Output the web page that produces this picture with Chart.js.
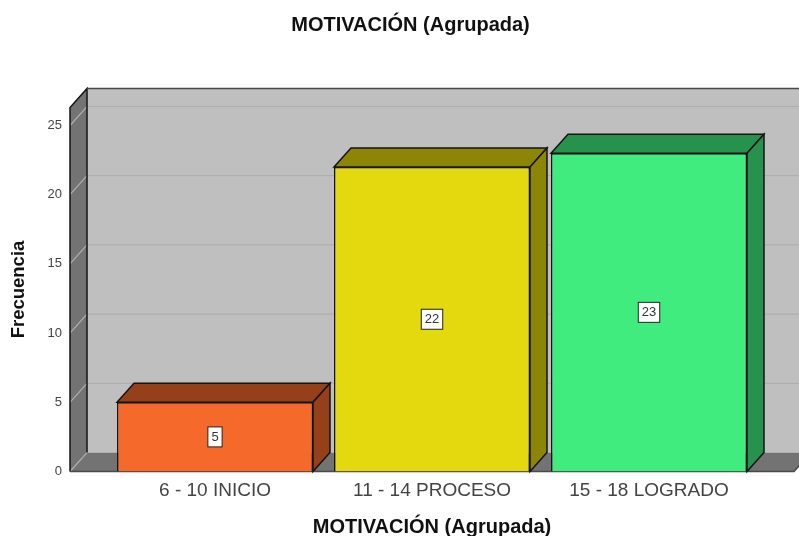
<!DOCTYPE html>
<html>
<head>
<meta charset="utf-8">
<style>
  html, body { margin: 0; padding: 0; background: #fff; }
  canvas { display: block; }
</style>
<script src="https://cdn.jsdelivr.net/npm/chart.js@4/dist/chart.umd.min.js"></script>
</head>
<body>
<canvas id="chart" width="799" height="536"></canvas>
<script>
const categories = ['6 - 10 INICIO', '11 - 14 PROCESO', '15 - 18 LOGRADO']
const frecuencia = [5, 22, 23]
const frontColors = ['#F56A2A', '#E3D90E', '#41EC7F']
const shadeColors = ['#964019', '#8C8508', '#27914E']
const axisMax = 26.3

const depthX = 17
const depthY = 19
const wallPad = 36.5
const lineColor = '#151515'

function poly(ctx, pts, fill, stroke) {
    ctx.beginPath()
    pts.forEach((p, i) => i ? ctx.lineTo(p[0], p[1]) : ctx.moveTo(p[0], p[1]))
    ctx.closePath()
    if (fill) { ctx.fillStyle = fill; ctx.fill() }
    if (stroke) { ctx.strokeStyle = stroke; ctx.lineWidth = 1.5; ctx.stroke() }
}

const box3d = {
    id: 'box3d',
    afterLayout(chart) {
        // title sits off-centre in the original
        chart.titleBlock.left = 22
        chart.titleBlock.right = chart.width
    },
    beforeDatasetsDraw(chart) {
        const { ctx, chartArea, scales } = chart
        const left = chartArea.left - wallPad
        const right = chartArea.right + wallPad
        const bottom = chartArea.bottom
        const top = chartArea.top
        ctx.save()

        // back wall, side wall, floor
        poly(ctx, [[left + depthX, top - depthY], [right + depthX, top - depthY], [right + depthX, bottom - depthY], [left + depthX, bottom - depthY]], '#BFBFBF')
        poly(ctx, [[left, top], [left + depthX, top - depthY], [left + depthX, bottom - depthY], [left, bottom]], '#737373')
        poly(ctx, [[left, bottom], [right, bottom], [right + depthX, bottom - depthY], [left + depthX, bottom - depthY]], '#737373')

        // grid lines run along side wall and back wall
        scales.y.ticks.forEach(t => {
            const y = scales.y.getPixelForValue(t.value)
            ctx.beginPath()
            ctx.moveTo(left, y)
            ctx.lineTo(left + depthX, y - depthY)
            ctx.lineTo(right + depthX, y - depthY)
            ctx.strokeStyle = '#AFAFAF'
            ctx.lineWidth = 1.2
            ctx.stroke()
        })

        // outlines
        ctx.lineWidth = 1.5
        ctx.strokeStyle = lineColor
        ctx.beginPath()
        ctx.moveTo(left, bottom)
        ctx.lineTo(left, top)
        ctx.lineTo(left + depthX, top - depthY)
        ctx.lineTo(left + depthX, bottom - depthY)
        ctx.stroke()
        ctx.strokeStyle = '#4A4A4A'
        ctx.beginPath()
        ctx.moveTo(left + depthX, top - depthY)
        ctx.lineTo(right + depthX, top - depthY)
        ctx.moveTo(left, bottom)
        ctx.lineTo(right, bottom)
        ctx.lineTo(right + depthX, bottom - depthY)
        ctx.stroke()

        // top and side face of each bar
        chart.getDatasetMeta(0).data.forEach((bar, i) => {
            const l = bar.x - bar.width / 2
            const r = bar.x + bar.width / 2
            poly(ctx, [[l, bar.y], [l + depthX, bar.y - depthY], [r + depthX, bar.y - depthY], [r, bar.y]], shadeColors[i], lineColor)
            poly(ctx, [[r, bar.y], [r + depthX, bar.y - depthY], [r + depthX, bar.base - depthY], [r, bar.base]], shadeColors[i], lineColor)
        })
        ctx.restore()
    },
    afterDatasetsDraw(chart) {
        const { ctx } = chart
        ctx.save()
        ctx.font = '13px "Liberation Sans"'
        ctx.textAlign = 'center'
        ctx.textBaseline = 'middle'
        chart.getDatasetMeta(0).data.forEach((bar, i) => {
            const label = String(frecuencia[i])
            const w = ctx.measureText(label).width + 7
            const y = (bar.y + bar.base) / 2
            ctx.fillStyle = '#fff'
            ctx.fillRect(bar.x - w / 2, y - 10, w, 20)
            ctx.strokeStyle = '#222'
            ctx.lineWidth = 1
            ctx.strokeRect(bar.x - w / 2, y - 10, w, 20)
            ctx.fillStyle = '#333'
            ctx.fillText(label, bar.x, y + 0.5)
        })
        ctx.restore()
    }
}

new Chart(document.getElementById('chart').getContext('2d'), {
    type: 'bar',
    data: {
        labels: categories,
        datasets: [{
            label: 'Frecuencia',
            data: frecuencia,
            backgroundColor: frontColors,
            borderColor: lineColor,
            borderWidth: 1.5,
            barPercentage: 196 / 217,
            categoryPercentage: 1
        }]
    },
    options: {
        responsive: false,
        animation: false,
        layout: { padding: { right: 41.5 } },
        plugins: {
            legend: { display: false },
            tooltip: { enabled: false },
            title: {
                display: true,
                text: 'MOTIVACIÓN (Agrupada)',
                color: '#111',
                font: { family: '"Liberation Sans"', size: 20, weight: 'bold' },
                padding: { top: 13, bottom: 70.5 }
            }
        },
        scales: {
            x: {
                afterFit(s) { s.height = 64.5 },
                grid: { display: false, drawTicks: false },
                border: { display: false },
                ticks: { color: '#444', font: { family: '"Liberation Sans"', size: 19 }, padding: 8, maxRotation: 0 },
                title: {
                    display: true,
                    text: 'MOTIVACIÓN (Agrupada)',
                    color: '#111',
                    font: { family: '"Liberation Sans"', size: 20, weight: 'bold' },
                    padding: { top: 17, bottom: -3 }
                }
            },
            y: {
                min: 0,
                max: axisMax,
                afterFit(s) { s.width = 106.5 },
                grid: { display: false, drawTicks: false },
                border: { display: false },
                ticks: { stepSize: 5, includeBounds: false, color: '#444', font: { family: '"Liberation Sans"', size: 13 }, padding: 44.5 },
                title: {
                    display: true,
                    text: 'Frecuencia',
                    color: '#111',
                    font: { family: '"Liberation Sans"', size: 18.5, weight: 'bold' },
                    padding: { top: 8, bottom: 0 }
                }
            }
        }
    },
    plugins: [box3d]
})
</script>
</body>
</html>
